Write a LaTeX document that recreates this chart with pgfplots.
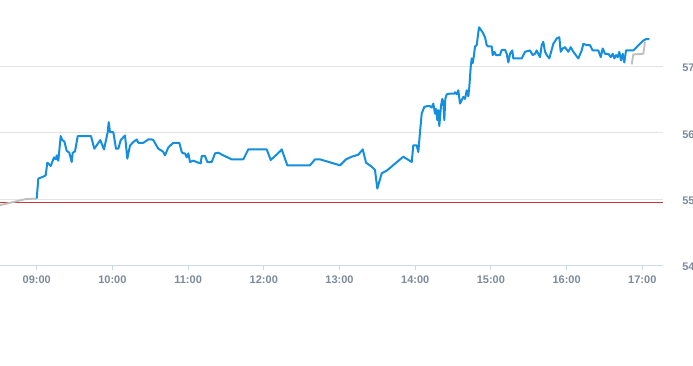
\documentclass[border=0pt]{standalone}
\usepackage{fontspec}
\setmainfont{Liberation Sans}
\usepackage{pgfplots}
\pgfplotsset{compat=1.18}
\definecolor{lineblue}{RGB}{20,142,222}
\definecolor{gridgray}{RGB}{228,228,228}
\definecolor{axisblue}{RGB}{204,214,235}
\definecolor{labelgray}{RGB}{125,138,155}
\definecolor{refred}{RGB}{205,55,55}
\definecolor{greyline}{RGB}{192,192,192}
\begin{document}
\begin{tikzpicture}
\path[use as bounding box] (0,0) rectangle (519.75pt,273.75pt);
\begin{axis}[
  at={(0,273.75pt)}, anchor=north west,
  scale only axis, width=497.25pt, height=199.2pt,
  xmin=-29.1, xmax=496.4, ymin=54, ymax=58,
  xtick={0,60,120,180,240,300,360,420,480},
  xticklabels={09:00,10:00,11:00,12:00,13:00,14:00,15:00,16:00,17:00},
  ytick={54,55,56,57},
  yticklabels={54,55,56,57},
  axis x line*=bottom,
  axis y line*=right,
  x axis line style={draw=axisblue, line width=0.75pt, -},
  y axis line style={draw=none},
  xtick align=outside,
  major tick length=3pt,
  xtick style={draw=axisblue, line width=0.75pt},
  ytick style={draw=none},
  ymajorgrids,
  grid style={draw=gridgray, line width=0.75pt},
  tick label style={font=\fontsize{8.25pt}{9pt}\selectfont\bfseries, text=labelgray, inner sep=0pt},
  xticklabel style={anchor=center, yshift=-7.8pt},
  yticklabel style={anchor=west, xshift=14.25pt, yshift=-1.2pt},
  clip=true,
]
% reference line
\addplot[refred, line width=0.75pt] coordinates {(-29.1,54.95) (496.4,54.95)};
% grey series (start)
\addplot[greyline, line width=1.4pt] coordinates {
(-29.1,54.91) (-9.27,55.00) (0,55.01)
};
% grey series (end)
\addplot[greyline, line width=1.4pt] coordinates {
(471.59,57.03) (472.86,57.18) (480.79,57.19) (482.14,57.37)
};
% main price series
\addplot[lineblue, line width=1.5pt, line join=round] coordinates {
(0,55.01) (1.27,55.31) (5.23,55.34) (7.13,55.36) (8.40,55.55) (11.10,55.50)
(13.71,55.63) (15.30,55.60) (15.85,55.66) (17.12,55.58) (19.02,55.95) (20.29,55.89)
(21.88,55.87) (23.78,55.73) (25.84,55.70) (27.74,55.56) (28.53,55.70) (30.36,55.72)
(32.50,55.95) (43.04,55.95) (45.65,55.76) (50.41,55.89) (53.34,55.75) (56.27,56.01)
(57.07,56.16) (58.10,56.01) (60.71,56.01) (62.85,55.76) (64.68,55.76) (66.58,55.89)
(69.99,55.96) (71.81,55.61) (73.95,55.81) (76.56,55.86) (79.26,55.90) (80.53,55.85)
(84.49,55.85) (88.45,55.90) (91.15,55.90) (92.42,55.89) (96.38,55.76) (99.08,55.73)
(100.34,55.71) (101.69,55.66) (104.31,55.78) (108.27,55.85) (113.02,55.85) (114.93,55.71)
(116.20,55.69) (117.54,55.69) (118.89,55.63) (120.16,55.69) (121.51,55.56) (123.65,55.58)
(125.47,55.57) (128.08,55.55) (129.99,55.54) (130.78,55.65) (133.40,55.65) (135.22,55.56)
(138.71,55.56) (141.32,55.69) (143.94,55.70) (147.90,55.66) (154.56,55.60) (163.75,55.60)
(167.71,55.75) (182.30,55.75) (185.47,55.59) (192.84,55.72) (194.19,55.75) (198.63,55.51)
(216.62,55.51) (220.58,55.60) (224.55,55.60) (240.40,55.51) (245.15,55.60) (249.67,55.64)
(254.90,55.67) (258.39,55.75) (261.00,55.55) (265.52,55.49) (268.13,55.44) (269.96,55.16)
(273.45,55.39) (277.41,55.43) (290.57,55.64) (297.23,55.56) (298.49,55.81) (301.19,55.81)
(302.46,55.71) (303.80,56.01) (305.15,56.29) (307.21,56.39) (309.11,56.40) (311.73,56.40)
(313.08,56.38) (314.35,56.44) (315.69,56.29) (316.49,56.36) (317.52,56.19) (318.31,56.34)
(319.10,56.10) (320.45,56.41) (321.48,56.51) (322.27,56.46) (323.06,56.19) (323.86,56.51)
(324.97,56.58) (327.58,56.59) (330.99,56.59) (331.54,56.61) (332.89,56.58) (334.16,56.64)
(335.51,56.44) (336.85,56.49) (338.12,56.54) (339.47,56.51) (340.82,56.64) (342.08,56.55)
(342.88,56.69) (343.99,56.99) (344.78,57.12) (345.57,57.05) (346.60,57.17) (347.40,57.30)
(348.74,57.32) (349.54,57.44) (350.57,57.59) (353.18,57.52) (355.32,57.44) (356.67,57.32)
(357.94,57.30) (360.63,57.30) (361.43,57.17) (362.70,57.22) (364.04,57.17) (367.21,57.17)
(368.56,57.25) (371.18,57.25) (372.52,57.19) (373.79,57.06) (375.14,57.19) (376.96,57.24)
(377.75,57.12) (384.41,57.12) (387.03,57.22) (390.99,57.24) (393.13,57.17) (394.95,57.19)
(396.30,57.24) (398.92,57.14) (400.26,57.32) (401.53,57.37) (402.88,57.22) (404.23,57.17)
(406.29,57.12) (409.46,57.34) (412.15,57.42) (414.21,57.44) (415.32,57.22) (416.91,57.27)
(418.73,57.29) (421.35,57.22) (423.25,57.29) (425.31,57.22) (429.27,57.12) (431.97,57.24)
(433.24,57.34) (435.93,57.32) (438.55,57.32) (440.69,57.24) (445.13,57.24) (447.03,57.14)
(448.62,57.27) (450.44,57.19) (453.05,57.19) (454.96,57.14) (456.54,57.19) (457.81,57.12)
(459.16,57.17) (460.50,57.14) (461.77,57.22) (463.12,57.09) (464.46,57.19) (465.73,57.06)
(467.08,57.24) (472.87,57.24) (480.79,57.39) (482.94,57.41) (485.55,57.41)
};
\end{axis}
\end{tikzpicture}
\end{document}
